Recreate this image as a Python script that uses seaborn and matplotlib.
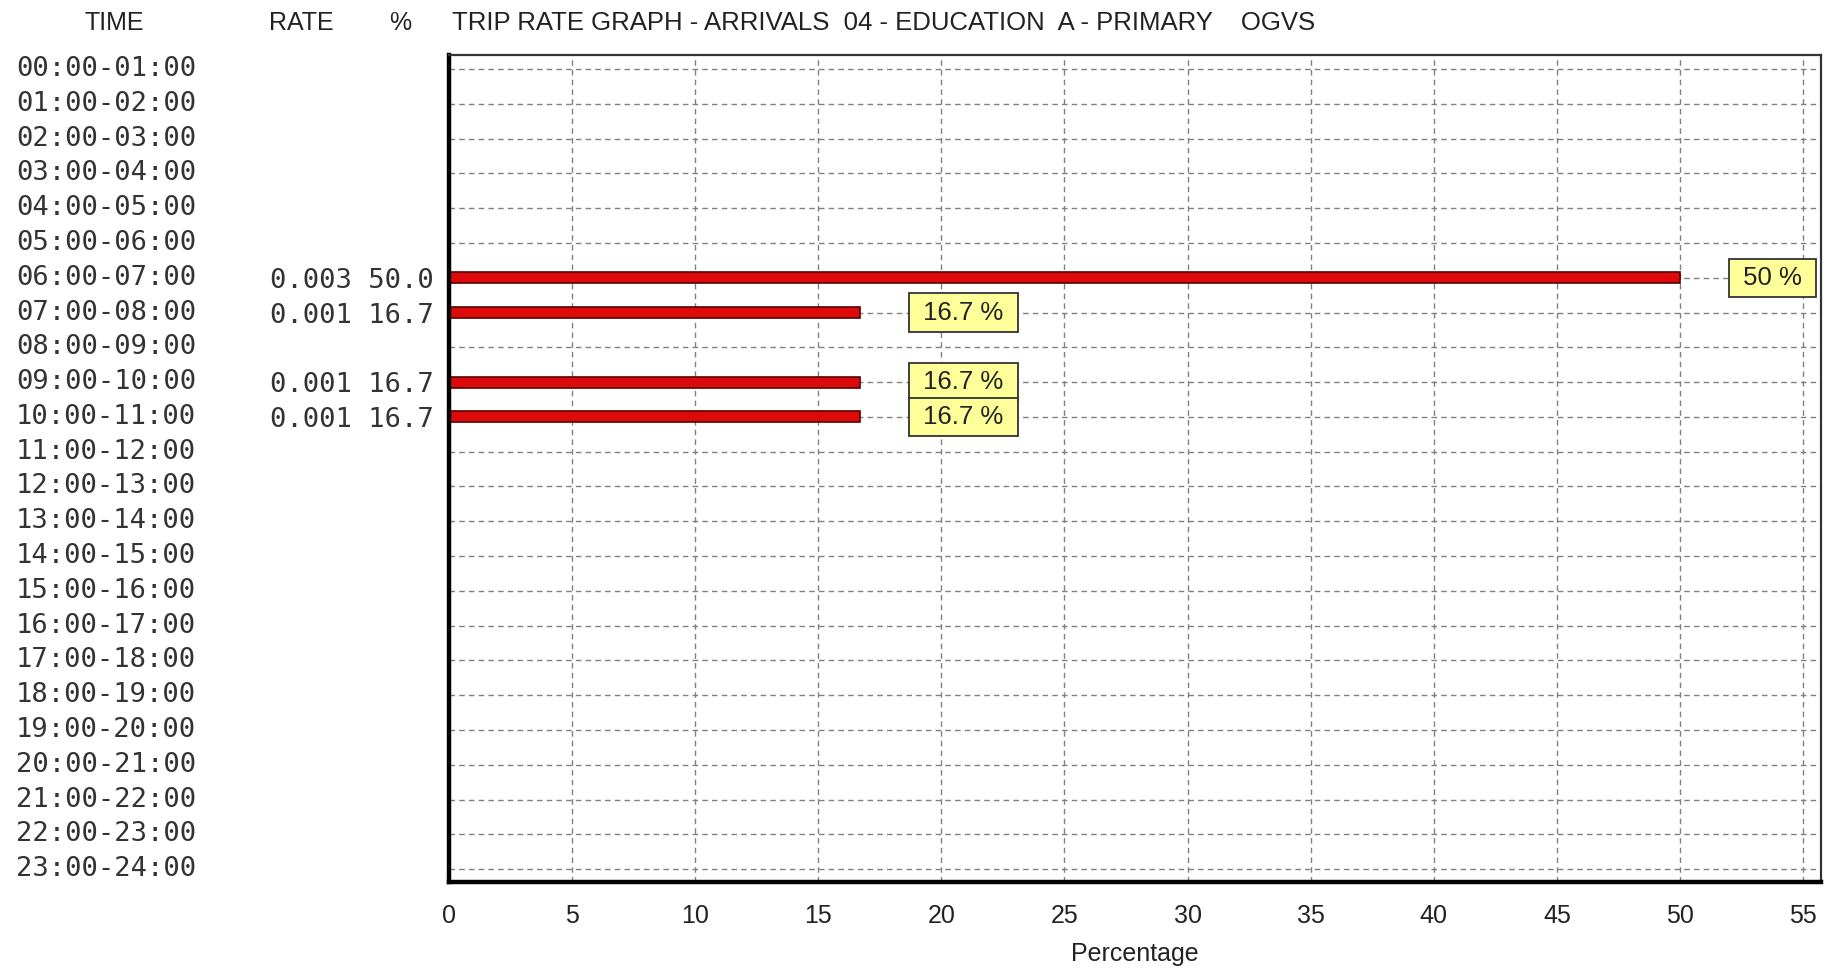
import numpy as np
import pandas as pd
import matplotlib
matplotlib.use('Agg')
import matplotlib.pyplot as plt
import matplotlib.transforms as mtransforms
from matplotlib.ticker import MultipleLocator
import seaborn as sns

# data
times = ['00:00-01:00', '01:00-02:00', '02:00-03:00', '03:00-04:00',
         '04:00-05:00', '05:00-06:00', '06:00-07:00', '07:00-08:00',
         '08:00-09:00', '09:00-10:00', '10:00-11:00', '11:00-12:00',
         '12:00-13:00', '13:00-14:00', '14:00-15:00', '15:00-16:00',
         '16:00-17:00', '17:00-18:00', '18:00-19:00', '19:00-20:00',
         '20:00-21:00', '21:00-22:00', '22:00-23:00', '23:00-24:00']
rate = [np.nan] * 6 + [0.003, 0.001, np.nan, 0.001, 0.001] + [np.nan] * 13
pct = [0] * 6 + [50.0, 16.7, 0, 16.7, 16.7] + [0] * 13

df = pd.DataFrame({'time': times, 'rate': rate, 'pct': pct})

sns.set_style('white')
mono = ['DejaVu Sans Mono']
narrow = ['Liberation Sans Narrow', 'Liberation Sans', 'DejaVu Sans']
plt.rcParams['font.family'] = narrow

fig = plt.figure(figsize=(18.28, 9.68), dpi=100)
ax = fig.add_axes([0.2456, 0.0888, 0.7506, 0.8543])

sns.barplot(data=df, y='time', x='pct', orient='h', color='#DC0A0A',
            saturation=1, width=0.32, edgecolor='#5a0000', linewidth=1.2, ax=ax)

ax.set_xlim(0, 55.73)
ax.set_ylim(23.37, -0.40)
ax.xaxis.set_major_locator(MultipleLocator(5))
ax.xaxis.set_minor_locator(MultipleLocator(1))
ax.set_yticks(range(24))
ax.yaxis.set_minor_locator(MultipleLocator(0.25))

# rate and % columns as y tick labels
lbls = ['' if np.isnan(r) else f'{r:.3f} {p:.1f}' for r, p in zip(df['rate'], df['pct'])]
ax.set_yticklabels(lbls, fontfamily=mono, fontsize=19.5, color='#333333')
ax.set_ylabel('')
ax.set_xlabel('Percentage', fontsize=18, color='#222222', labelpad=10)

ax.tick_params(axis='x', which='major', direction='out', length=9, width=1.2,
               color='#444444', labelsize=18, labelcolor='#222222', pad=7)
ax.tick_params(axis='x', which='minor', direction='out', length=5, width=1, color='#666666')
ax.tick_params(axis='y', which='major', direction='out', length=8, width=1.2,
               color='#666666', pad=3)
ax.tick_params(axis='y', which='minor', direction='out', length=4, width=1, color='#888888')

ax.grid(True, which='major', linestyle=(0, (4, 3)), color='#808080', linewidth=1)
ax.set_axisbelow(True)

for side in ['left', 'bottom']:
    ax.spines[side].set_linewidth(3.2)
    ax.spines[side].set_color('black')
for side in ['top', 'right']:
    ax.spines[side].set_linewidth(1.6)
    ax.spines[side].set_color('#333333')

# yellow value boxes
for i, v in enumerate(df['pct']):
    if v > 0:
        ax.annotate(f' {v:g} % ', xy=(v, i), xytext=(40.5, 0), textcoords='offset points',
                    ha='left', va='center', fontsize=18.5, color='#222222',
                    fontfamily=['Liberation Sans', 'DejaVu Sans'],
                    bbox=dict(boxstyle='square,pad=0.28', fc='#FFFF99', ec='#333333', lw=1.3),
                    annotation_clip=False)

# time column on the far left
trans = mtransforms.blended_transform_factory(fig.transFigure, ax.transData)
for i, t in enumerate(times):
    ax.text(0.0087, i, t, transform=trans, ha='left', va='center',
            fontfamily=mono, fontsize=19.5, color='#333333')

# header row
hy = 1 - 23 / 968
fig.text(114 / 1828, hy, 'TIME', ha='center', va='center', fontsize=18, color='#222222')
fig.text(301 / 1828, hy, 'RATE', ha='center', va='center', fontsize=18, color='#222222')
fig.text(400 / 1828, hy, '%', ha='center', va='center', fontsize=18, color='#222222')
fig.text(452 / 1828, hy, 'TRIP RATE GRAPH - ARRIVALS  04 - EDUCATION  A - PRIMARY    OGVS',
         ha='left', va='center', fontsize=18.5, color='#222222')

fig.savefig('out.png', dpi=100, facecolor='white')
